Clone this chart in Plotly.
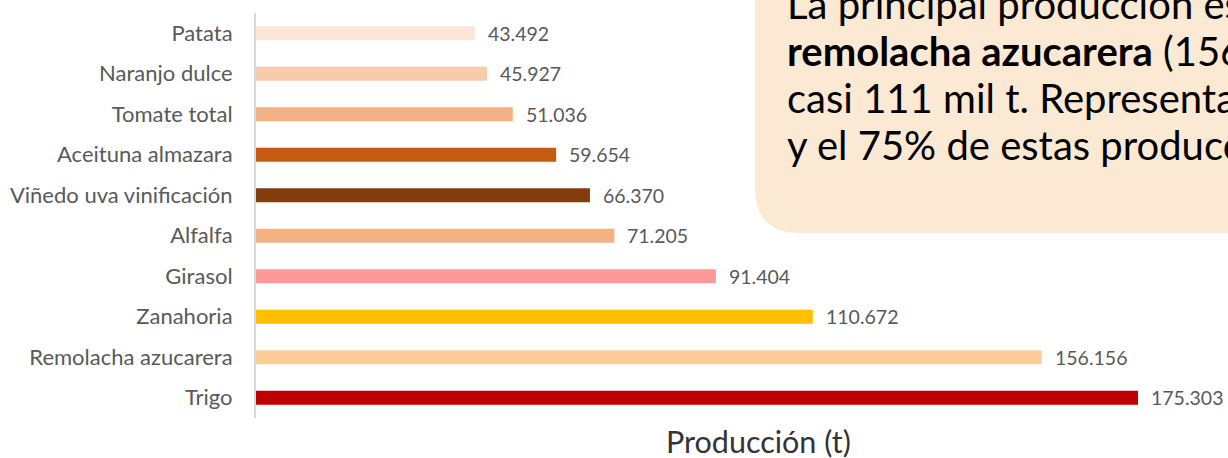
import plotly.graph_objects as go

# datos (t), de arriba a abajo
cultivos = [
    "Patata",
    "Naranjo dulce",
    "Tomate total",
    "Aceituna almazara",
    "Viñedo uva vinificación",
    "Alfalfa",
    "Girasol",
    "Zanahoria",
    "Remolacha azucarera",
    "Trigo",
]
produccion = [43492, 45927, 51036, 59654, 66370, 71205, 91404, 110672, 156156, 175303]
colores = [
    "#FBE5D6",
    "#F8CBAD",
    "#F4B183",
    "#C55A11",
    "#843C0C",
    "#F4B183",
    "#FF9999",
    "#FFC000",
    "#FFCC99",
    "#C00000",
]

texto_cuadro = [
    "La principal producción es el trigo (175.303 t), seguida de la",
    "<b>remolacha azucarera</b> (156.156 t) y la zanahoria, con",
    "casi 111 mil t. Representan el 60% de la superficie",
    "y el 75% de estas producciones.",
]

W, H = 1228, 458
L, R, T, B = 256, 0, 13, 40
pw, ph = W - L - R, H - T - B


def px(x):
    return (x - L) / pw


def py(y):
    return (H - B - y) / ph


font = "Lato, 'Open Sans', sans-serif"

fig = go.Figure()
fig.add_trace(
    go.Bar(
        x=produccion,
        y=cultivos,
        orientation="h",
        marker=dict(color=colores, line=dict(width=0)),
        hoverinfo="x+y",
    )
)

# etiquetas de valor
for c, v in zip(cultivos, produccion):
    fig.add_annotation(
        x=v,
        y=c,
        xref="x",
        yref="y",
        text=f"{v:,}".replace(",", "."),
        showarrow=False,
        xanchor="left",
        xshift=11,
        font=dict(family=font, size=19.5, color="#595959"),
    )

# titulo eje x
fig.add_annotation(
    x=px(758),
    y=py(441),
    xref="paper",
    yref="paper",
    text="Producción (t)",
    showarrow=False,
    xanchor="center",
    yanchor="middle",
    font=dict(family=font, size=30.5, color="#333333"),
)

# cuadro de texto redondeado
x0, x1, y0, y1, r = 755, 1260, -20, 233, 45
path = (
    f"M {px(x0)},{py(y0)} L {px(x0)},{py(y1 - r)} "
    f"Q {px(x0)},{py(y1)} {px(x0 + r)},{py(y1)} "
    f"L {px(x1)},{py(y1)} L {px(x1)},{py(y0)} Z"
)
fig.add_shape(
    type="path",
    path=path,
    xref="paper",
    yref="paper",
    fillcolor="#FCE9D4",
    line=dict(width=0),
    layer="above",
)
for i, linea in enumerate(texto_cuadro):
    fig.add_annotation(
        x=px(785),
        y=py(4 + 47 * i),
        xref="paper",
        yref="paper",
        text=linea,
        showarrow=False,
        xanchor="left",
        yanchor="middle",
        font=dict(family=font, size=40, color="#000000"),
    )

fig.update_layout(
    width=W,
    height=H,
    margin=dict(l=L, r=R, t=T, b=B),
    paper_bgcolor="white",
    plot_bgcolor="white",
    showlegend=False,
    bargap=0.655,
    xaxis=dict(
        range=[0, 175303 * pw / 882],
        showgrid=False,
        zeroline=False,
        showticklabels=False,
        showline=False,
    ),
    yaxis=dict(
        categoryorder="array",
        categoryarray=cultivos,
        range=[9.5, -0.5],
        showgrid=False,
        zeroline=False,
        showline=True,
        linecolor="#D9D9D9",
        linewidth=2,
        ticks="",
        ticklabelstandoff=17,
        tickfont=dict(family=font, size=22, color="#595959"),
    ),
)

# sin margen del body para que la figura ocupe la ventana
fig.write_html(
    "out.html",
    config={"displayModeBar": False},
    post_script="document.body.style.margin='0';",
)
